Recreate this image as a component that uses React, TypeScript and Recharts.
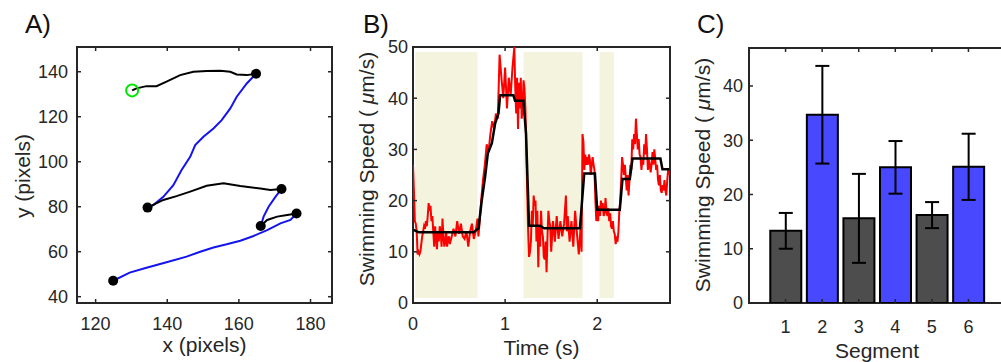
import React from 'react'
import {
  ComposedChart,
  Line,
  Scatter,
  Bar,
  Cell,
  ErrorBar,
  XAxis,
  YAxis,
  ReferenceArea,
  Label,
} from 'recharts'

const FONT = '"Liberation Sans", Arial, Helvetica, sans-serif'
const AXIS = '#262626'
const TICK_LEN = 4

// A) cell trajectory, in pixels
const seg1 = [
  { x: 130.2, y: 131.7 }, { x: 131.4, y: 132.6 }, { x: 134.2, y: 133.6 }, { x: 137, y: 133.6 },
  { x: 139.8, y: 135.6 }, { x: 143.6, y: 138.5 }, { x: 147.3, y: 140 }, { x: 151, y: 140.3 },
  { x: 154.8, y: 140.4 }, { x: 157.6, y: 140 }, { x: 159.4, y: 138.8 }, { x: 162.2, y: 138.5 },
  { x: 164.8, y: 139.1 },
]
const seg2 = [
  { x: 164.8, y: 139.1 }, { x: 162.2, y: 134.8 }, { x: 159.4, y: 128.9 }, { x: 157.6, y: 123.7 },
  { x: 155.2, y: 118.5 }, { x: 152.9, y: 114.8 }, { x: 150.1, y: 111.1 }, { x: 147.8, y: 107.4 },
  { x: 146.4, y: 102.2 }, { x: 144, y: 96.3 }, { x: 141.7, y: 89.6 }, { x: 138.9, y: 84.4 },
  { x: 136.1, y: 80.7 }, { x: 134.5, y: 79.6 },
]
const seg3 = [
  { x: 134.5, y: 79.6 }, { x: 138.9, y: 83 }, { x: 142.6, y: 84.7 }, { x: 146.4, y: 86.7 },
  { x: 151, y: 89.3 }, { x: 155.7, y: 90.4 }, { x: 160.4, y: 89.2 }, { x: 166, y: 88.1 },
  { x: 168.8, y: 87.4 }, { x: 171.9, y: 87.9 },
]
const seg4 = [
  { x: 171.9, y: 87.9 }, { x: 170.2, y: 84.4 }, { x: 168.3, y: 80 }, { x: 166.9, y: 75.6 },
  { x: 166.1, y: 71.4 },
]
const seg5 = [
  { x: 166.1, y: 71.4 }, { x: 167.9, y: 74.1 }, { x: 170.7, y: 75.6 }, { x: 173.5, y: 76.3 },
  { x: 176.1, y: 77 },
]
const seg6 = [
  { x: 176.1, y: 77 }, { x: 174.4, y: 74.1 }, { x: 171.6, y: 72.6 }, { x: 167.9, y: 69.6 },
  { x: 164.1, y: 67 }, { x: 160.4, y: 64.9 }, { x: 156.6, y: 63.3 }, { x: 152.9, y: 61.9 },
  { x: 149.2, y: 60 }, { x: 145.4, y: 57.8 }, { x: 139.8, y: 55.3 }, { x: 134.2, y: 52.9 },
  { x: 129.5, y: 50.7 }, { x: 124.9, y: 47.1 },
]
const stops = [
  { x: 164.8, y: 139.1 }, { x: 134.5, y: 79.6 }, { x: 171.9, y: 87.9 },
  { x: 166.1, y: 71.4 }, { x: 176.1, y: 77 }, { x: 124.9, y: 47.1 },
]
const start = [{ x: 130.2, y: 131.7 }]

// B) swimming speed over time
const rawTrace: [number, number][] = [
  [0, 27], [0.01, 22], [0.02, 16], [0.03, 15.5], [0.04, 14], [0.05, 9.5], [0.06, 10], [0.07, 9.5],
  [0.08, 10], [0.09, 11.5], [0.1, 13], [0.11, 14], [0.12, 15], [0.13, 14.5], [0.14, 16], [0.15, 15],
  [0.16, 17], [0.17, 19.5], [0.18, 18], [0.19, 19], [0.2, 16], [0.21, 17], [0.22, 14], [0.23, 11],
  [0.24, 15], [0.25, 12.5], [0.26, 10.5], [0.27, 14], [0.28, 12], [0.29, 15], [0.3, 14], [0.31, 11],
  [0.32, 16.5], [0.33, 13], [0.34, 11], [0.35, 12], [0.36, 14], [0.37, 11], [0.38, 12.5], [0.39, 13],
  [0.4, 11.5], [0.42, 13], [0.44, 14.5], [0.46, 13], [0.48, 16], [0.5, 13.5], [0.52, 15.5], [0.54, 13],
  [0.56, 12.5], [0.58, 14], [0.6, 11], [0.62, 14], [0.64, 15.5], [0.66, 12.5], [0.68, 14], [0.7, 16.5],
  [0.71, 13], [0.72, 15], [0.74, 20], [0.76, 24], [0.78, 27], [0.8, 31], [0.82, 29.5], [0.84, 33],
  [0.86, 35.5], [0.88, 34], [0.9, 37], [0.92, 36], [0.93, 42], [0.94, 48.5], [0.96, 44], [0.98, 40],
  [1.0, 46], [1.02, 38], [1.04, 44], [1.06, 40.5], [1.08, 46], [1.1, 50], [1.11, 42], [1.12, 37],
  [1.13, 44], [1.14, 34], [1.15, 43], [1.16, 38], [1.17, 44], [1.18, 36], [1.19, 38], [1.2, 43.5],
  [1.21, 42], [1.22, 38], [1.23, 30], [1.24, 22], [1.25, 14], [1.26, 9], [1.27, 10], [1.28, 12],
  [1.29, 18], [1.3, 15], [1.31, 21], [1.32, 19], [1.33, 20], [1.34, 12], [1.35, 18], [1.36, 7],
  [1.37, 15], [1.38, 11], [1.39, 18], [1.4, 14], [1.41, 13], [1.42, 9], [1.43, 8.5], [1.44, 12],
  [1.45, 6], [1.46, 13], [1.47, 18], [1.48, 16], [1.49, 15], [1.5, 10], [1.52, 16], [1.54, 12],
  [1.56, 17], [1.58, 12.5], [1.6, 16], [1.62, 13], [1.64, 15.5], [1.66, 21], [1.67, 14], [1.68, 17],
  [1.7, 12], [1.72, 16], [1.74, 11], [1.76, 18], [1.78, 13.5], [1.8, 9.5], [1.82, 15], [1.83, 10],
  [1.84, 33], [1.85, 31.5], [1.86, 26], [1.87, 29], [1.88, 27], [1.89, 28.5], [1.9, 27], [1.91, 29],
  [1.92, 28], [1.93, 25], [1.94, 27], [1.95, 28.5], [1.96, 27], [1.97, 26], [1.98, 20], [1.99, 16],
  [2.0, 18], [2.01, 16], [2.02, 19], [2.03, 17], [2.04, 20], [2.05, 18], [2.06, 19.5], [2.07, 17],
  [2.08, 17.5], [2.09, 20.5], [2.1, 18], [2.11, 17], [2.12, 18.5], [2.13, 16], [2.14, 17.5], [2.15, 15],
  [2.16, 14.5], [2.17, 16], [2.18, 14], [2.19, 13.5], [2.2, 11.5], [2.21, 12.5], [2.22, 12], [2.23, 14],
  [2.24, 18], [2.25, 20], [2.26, 24], [2.27, 28.5], [2.28, 27], [2.29, 25], [2.3, 27], [2.31, 24.5],
  [2.32, 22], [2.33, 25], [2.34, 21], [2.35, 24], [2.36, 27], [2.37, 26], [2.38, 32], [2.39, 30],
  [2.4, 33], [2.41, 31], [2.42, 36], [2.43, 33], [2.44, 30], [2.45, 32], [2.46, 29], [2.47, 28.5],
  [2.48, 26], [2.49, 28], [2.5, 27], [2.51, 31], [2.52, 29], [2.53, 33], [2.54, 30], [2.55, 26],
  [2.56, 28], [2.57, 27], [2.58, 25.5], [2.59, 27], [2.6, 29.5], [2.61, 27], [2.62, 30], [2.63, 28],
  [2.64, 26], [2.65, 27], [2.66, 24], [2.67, 23], [2.68, 25], [2.69, 22], [2.7, 21.5], [2.71, 23],
  [2.72, 22], [2.73, 24], [2.74, 22], [2.75, 21], [2.76, 24], [2.77, 26], [2.78, 25],
]
const stepTime = [
  0.007, 0.061, 0.657, 0.711, 0.747, 0.783, 0.812, 0.856, 0.892, 0.928, 0.946, 1.09, 1.108, 1.199,
  1.227, 1.26, 1.379, 1.422, 1.812, 1.859, 1.975, 2.0, 2.245, 2.274, 2.354, 2.383, 2.686, 2.708, 2.78,
]
const stepSpeed = [
  14.3, 13.8, 13.8, 14.6, 20.1, 24.7, 29.2, 31.2, 35.1, 37, 40.6, 40.6, 39.5, 39.5,
  33.1, 15.1, 15.1, 14.6, 14.6, 25.3, 25.3, 18.2, 18.2, 24.2, 24.2, 28.2, 28.2, 26.1, 26.1,
]
const tumbleWindows = [
  [0.025, 0.7],
  [1.2, 1.84],
  [2.025, 2.18],
]

// C) mean speed per segment
const segmentIds = [1, 2, 3, 4, 5, 6]
const segmentMeans = [13.3, 34.7, 15.6, 25.0, 16.2, 25.1]
const segmentErrs = [3.3, 9.0, 8.2, 4.85, 2.4, 6.1]
const segmentColors = ['#4d4d4d', '#4848ff', '#4d4d4d', '#4848ff', '#4d4d4d', '#4848ff']

const trace = rawTrace.map(([t, v]) => ({ t, v }))
const steps = stepTime.map((t, i) => ({ t, v: stepSpeed[i] }))
const segments = segmentIds.map((seg, i) => ({ seg, mean: segmentMeans[i], err: segmentErrs[i] }))

const makeXTick = (top: number, bottom: number) => (props: any) => {
  const { x, y, payload } = props
  return (
    <g>
      <line x1={x} x2={x} y1={bottom} y2={bottom - TICK_LEN} stroke={AXIS} strokeWidth={1.5} />
      <line x1={x} x2={x} y1={top} y2={top + TICK_LEN} stroke={AXIS} strokeWidth={1.5} />
      <text x={x} y={y} dy="0.71em" textAnchor="middle" fontSize={18} fill={AXIS} fontFamily={FONT}>
        {payload.value}
      </text>
    </g>
  )
}

const makeYTick = (left: number, right: number) => (props: any) => {
  const { x, y, payload } = props
  return (
    <g>
      <line x1={left} x2={left + TICK_LEN} y1={y} y2={y} stroke={AXIS} strokeWidth={1.5} />
      <line x1={right} x2={right - TICK_LEN} y1={y} y2={y} stroke={AXIS} strokeWidth={1.5} />
      <text x={x} y={y} dy="0.355em" textAnchor="end" fontSize={18} fill={AXIS} fontFamily={FONT}>
        {payload.value}
      </text>
    </g>
  )
}

const xLabel = (text: string, cx: number, baseline: number) => () => (
  <text x={cx} y={baseline} textAnchor="middle" fontSize={21} fill={AXIS} fontFamily={FONT}>
    {text}
  </text>
)

const yLabel = (content: React.ReactNode, bx: number, cy: number) => () => (
  <text
    x={bx}
    y={cy}
    transform={`rotate(-90, ${bx}, ${cy})`}
    textAnchor="middle"
    fontSize={21}
    fill={AXIS}
    fontFamily={FONT}
  >
    {content}
  </text>
)

const speedLabel = (
  <>
    Swimming Speed ( <tspan fontStyle="italic">μ</tspan>m/s)
  </>
)

const stopDot = (p: any) => <circle cx={p.cx} cy={p.cy} r={5} fill="#000" />
const startDot = (p: any) => <circle cx={p.cx} cy={p.cy} r={6} fill="none" stroke="#00e600" strokeWidth={2} />

const panelLetter = (text: string, left: number) => (
  <div
    style={{
      position: 'absolute',
      left,
      top: 11,
      fontSize: 26,
      lineHeight: '26px',
      fontFamily: FONT,
      color: '#111',
    }}
  >
    {text}
  </div>
)

function PanelA() {
  return (
    <ComposedChart width={340} height={362} margin={{ top: 47, right: 8, bottom: 0, left: 0 }}>
      <XAxis
        type="number"
        dataKey="x"
        domain={[114.8, 186]}
        ticks={[120, 140, 160, 180]}
        interval={0}
        allowDataOverflow
        height={59}
        tickSize={0}
        tickMargin={14}
        axisLine={false}
        tick={makeXTick(47, 303)}
      >
        <Label content={xLabel('x (pixels)', 204.5, 352)} />
      </XAxis>
      <YAxis
        type="number"
        dataKey="y"
        domain={[37.2, 151]}
        ticks={[40, 60, 80, 100, 120, 140]}
        interval={0}
        allowDataOverflow
        width={77}
        tickSize={0}
        tickMargin={9}
        axisLine={false}
        tick={makeYTick(77, 332)}
      >
        <Label content={yLabel('y (pixels)', 30, 176)} />
      </YAxis>
      <Line data={seg1} dataKey="y" stroke="#000" strokeWidth={2} dot={false} isAnimationActive={false} />
      <Line data={seg2} dataKey="y" stroke="#1414ee" strokeWidth={2} dot={false} isAnimationActive={false} />
      <Line data={seg3} dataKey="y" stroke="#000" strokeWidth={2} dot={false} isAnimationActive={false} />
      <Line data={seg4} dataKey="y" stroke="#1414ee" strokeWidth={2} dot={false} isAnimationActive={false} />
      <Line data={seg5} dataKey="y" stroke="#000" strokeWidth={2} dot={false} isAnimationActive={false} />
      <Line data={seg6} dataKey="y" stroke="#1414ee" strokeWidth={2} dot={false} isAnimationActive={false} />
      <Scatter data={stops} dataKey="y" shape={stopDot} isAnimationActive={false} />
      <Scatter data={start} dataKey="y" shape={startDot} isAnimationActive={false} />
      <ReferenceArea x1={114.8} x2={186} y1={37.2} y2={151} fill="none" stroke={AXIS} strokeWidth={2} />
    </ComposedChart>
  )
}

function PanelB() {
  return (
    <ComposedChart width={340} height={362} margin={{ top: 47, right: 10, bottom: 0, left: 0 }}>
      {tumbleWindows.map(([a, b], i) => (
        <ReferenceArea key={i} x1={a} x2={b} y1={1} y2={49} fill="#f3f3de" fillOpacity={1} stroke="none" />
      ))}
      <XAxis
        type="number"
        dataKey="t"
        domain={[0, 2.79]}
        ticks={[0, 1, 2]}
        interval={0}
        allowDataOverflow
        height={59}
        tickSize={0}
        tickMargin={14}
        axisLine={false}
        tick={makeXTick(47, 303)}
      >
        <Label content={xLabel('Time (s)', 201.5, 355)} />
      </XAxis>
      <YAxis
        type="number"
        dataKey="v"
        domain={[0, 50]}
        ticks={[0, 10, 20, 30, 40, 50]}
        interval={0}
        allowDataOverflow
        width={73}
        tickSize={0}
        tickMargin={5}
        axisLine={false}
        tick={makeYTick(73, 330)}
      >
        <Label content={yLabel(speedLabel, 34, 169)} />
      </YAxis>
      <Line data={trace} dataKey="v" stroke="#ff0000" strokeWidth={2} dot={false} isAnimationActive={false} />
      <Line data={steps} dataKey="v" stroke="#000" strokeWidth={2.5} dot={false} isAnimationActive={false} />
      <ReferenceArea x1={0} x2={2.79} y1={0} y2={50} fill="none" stroke={AXIS} strokeWidth={2} />
    </ComposedChart>
  )
}

function PanelC() {
  return (
    <ComposedChart width={335} height={362} data={segments} margin={{ top: 48, right: 10, bottom: 0, left: 0 }}>
      <XAxis
        type="number"
        dataKey="seg"
        domain={[0, 7]}
        ticks={segmentIds}
        interval={0}
        allowDataOverflow
        height={59}
        tickSize={0}
        tickMargin={17}
        axisLine={false}
        tick={makeXTick(48, 303)}
      >
        <Label content={xLabel('Segment', 197, 358)} />
      </XAxis>
      <YAxis
        type="number"
        domain={[0, 47]}
        ticks={[0, 10, 20, 30, 40]}
        interval={0}
        allowDataOverflow
        width={69}
        tickSize={0}
        tickMargin={6}
        axisLine={false}
        tick={makeYTick(69, 325)}
      >
        <Label content={yLabel(speedLabel, 30, 175)} />
      </YAxis>
      <Bar dataKey="mean" barSize={31} stroke="#000" strokeWidth={2} isAnimationActive={false}>
        {segments.map((s, i) => (
          <Cell key={s.seg} fill={segmentColors[i]} />
        ))}
        <ErrorBar dataKey="err" width={7} stroke="#000" strokeWidth={2} />
      </Bar>
      <ReferenceArea x1={0} x2={7} y1={0} y2={47} fill="none" stroke={AXIS} strokeWidth={2} />
    </ComposedChart>
  )
}

export default function App() {
  return (
    <div
      style={{
        position: 'absolute',
        left: 0,
        top: 0,
        width: 1001,
        height: 362,
        overflow: 'hidden',
        background: '#fff',
        fontFamily: FONT,
      }}
    >
      <div style={{ position: 'absolute', left: 0, top: 0 }}>
        <PanelA />
      </div>
      <div style={{ position: 'absolute', left: 340, top: 0 }}>
        <PanelB />
      </div>
      <div style={{ position: 'absolute', left: 680, top: 0 }}>
        <PanelC />
      </div>
      {panelLetter('A)', 25)}
      {panelLetter('B)', 363)}
      {panelLetter('C)', 697)}
    </div>
  )
}
